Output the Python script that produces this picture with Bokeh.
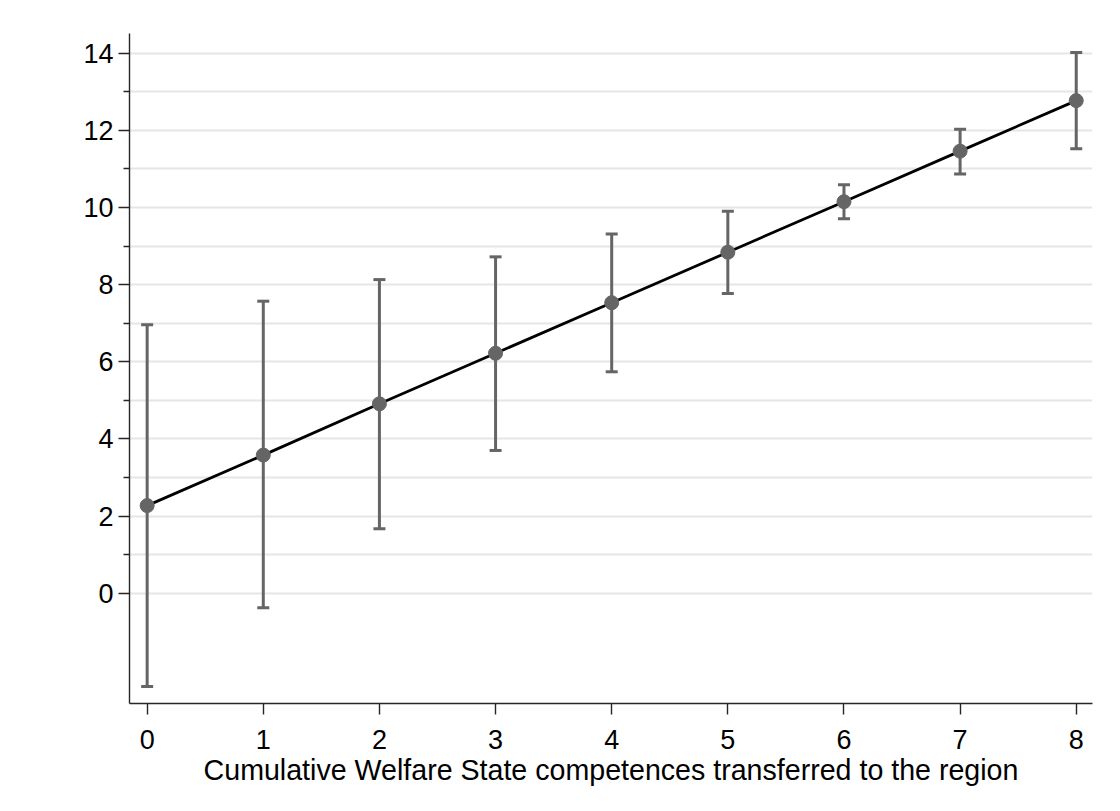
from bokeh.plotting import figure
from bokeh.models import FixedTicker, Range1d, ColumnDataSource
from bokeh.embed import file_html
from bokeh.resources import INLINE

# Data
competences = [0, 1, 2, 3, 4, 5, 6, 7, 8]
estimate = [2.27, 3.58, 4.91, 6.22, 7.53, 8.84, 10.15, 11.46, 12.77]
ci_lower = [-2.42, -0.38, 1.67, 3.70, 5.74, 7.77, 9.71, 10.87, 11.52]
ci_upper = [6.96, 7.57, 8.13, 8.72, 9.31, 9.90, 10.59, 12.03, 14.02]

y_major = [0, 2, 4, 6, 8, 10, 12, 14]
y_minor = [1, 3, 5, 7, 9, 11, 13]
x_ticks = [0, 1, 2, 3, 4, 5, 6, 7, 8]
x_label = "Cumulative Welfare State competences transferred to the region"

src = ColumnDataSource(dict(x=competences, y=estimate, lo=ci_lower, hi=ci_upper))

FONT = "Liberation Sans"
GRAY = "#656565"

p = figure(width=1104, height=795, output_backend="svg", toolbar_location=None,
           x_range=Range1d(-0.152, 8.14), y_range=Range1d(-2.86, 14.51),
           min_border_left=129, min_border_right=12, min_border_top=33, min_border_bottom=92)
p.outline_line_color = None
p.background_fill_color = "white"
p.border_fill_color = "white"

# gridlines at every integer (major + minor)
p.xgrid.grid_line_color = None
p.ygrid.grid_line_color = "#e6e6e6"
p.ygrid.grid_line_width = 2
p.ygrid.minor_grid_line_color = "#e6e6e6"
p.ygrid.minor_grid_line_width = 2

# axes
p.yaxis.ticker = FixedTicker(ticks=y_major, minor_ticks=y_minor)
p.xaxis.ticker = FixedTicker(ticks=x_ticks, minor_ticks=[])
for ax in (p.xaxis[0], p.yaxis[0]):
    ax.axis_line_color = "#262626"
    ax.axis_line_width = 1.4
    ax.major_tick_line_color = "#262626"
    ax.major_tick_line_width = 1.4
    ax.major_tick_out = 11
    ax.major_tick_in = 0
    ax.major_label_text_font = FONT
    ax.major_label_text_font_size = "27px"
    ax.major_label_text_color = "black"
p.yaxis.minor_tick_line_color = "#262626"
p.yaxis.minor_tick_line_width = 1.4
p.yaxis.minor_tick_out = 6
p.yaxis.minor_tick_in = 0
p.yaxis.major_label_standoff = 5
p.xaxis.minor_tick_line_color = None
p.xaxis.major_label_standoff = 15

p.xaxis.axis_label = x_label
p.xaxis.axis_label_text_font = FONT
p.xaxis.axis_label_text_font_size = "28.6px"
p.xaxis.axis_label_text_font_style = "normal"
p.xaxis.axis_label_text_color = "black"
p.xaxis.axis_label_standoff = 2

# error bars
p.segment(x0="x", y0="lo", x1="x", y1="hi", source=src, line_color=GRAY, line_width=3)
p.scatter(x="x", y="lo", source=src, marker="dash", size=12, line_color=GRAY, line_width=3)
p.scatter(x="x", y="hi", source=src, marker="dash", size=12, line_color=GRAY, line_width=3)

# fitted line and points
p.line(x="x", y="y", source=src, line_color="black", line_width=2.8)
p.scatter(x="x", y="y", source=src, marker="circle", size=14,
          fill_color=GRAY, line_color=GRAY)

open("out.html", "w").write(file_html(p, INLINE))
